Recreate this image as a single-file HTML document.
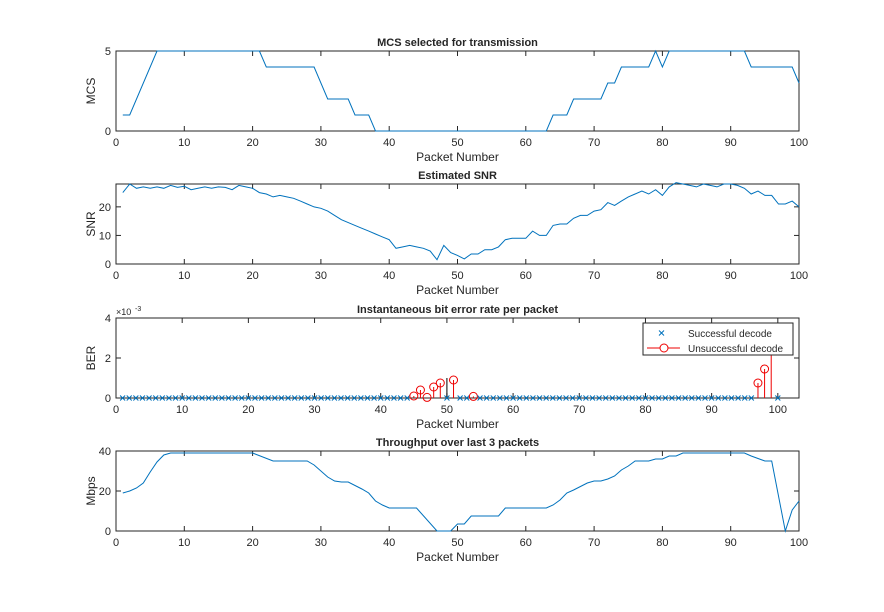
<!DOCTYPE html>
<html><head><meta charset="utf-8"><style>
body{margin:0;background:#fff}
text{font-family:"Liberation Sans",Arial,sans-serif;fill:#262626}
</style></head><body>
<svg id="s" width="884" height="607" xmlns="http://www.w3.org/2000/svg"></svg>
<script>
const s=document.getElementById('s');let h='';
const L=116,R=799;
function axes(top,bot,xmax,yticks,ymax,title,ylab,xticks){
 const W=R-L,H=bot-top;
 h+=`<rect x="${L}" y="${top}" width="${W}" height="${H}" fill="#fff" stroke="#262626" stroke-width="1"/>`;
 xticks.forEach(t=>{const x=L+t/xmax*W;h+=`<line x1="${x}" y1="${bot}" x2="${x}" y2="${bot-5}" stroke="#262626"/><line x1="${x}" y1="${top}" x2="${x}" y2="${top+5}" stroke="#262626"/><text x="${x}" y="${bot+15}" font-size="11" text-anchor="middle">${t}</text>`});
 yticks.forEach(t=>{const y=bot-t/ymax*H;h+=`<line x1="${L}" y1="${y}" x2="${L+5}" y2="${y}" stroke="#262626"/><line x1="${R}" y1="${y}" x2="${R-5}" y2="${y}" stroke="#262626"/><text x="${L-5}" y="${y+4}" font-size="11" text-anchor="end">${t}</text>`});
 h+=`<text x="${(L+R)/2}" y="${top-5}" font-size="11" font-weight="bold" text-anchor="middle" fill="#000">${title}</text>`;
 h+=`<text x="${(L+R)/2}" y="${bot+30}" font-size="12" text-anchor="middle">Packet Number</text>`;
 h+=`<text transform="translate(${L-21},${(top+bot)/2}) rotate(-90)" font-size="12" text-anchor="middle">${ylab}</text>`;
}
function line(top,bot,xmax,ymax,pts){
 const W=R-L,H=bot-top;
 h+=`<polyline fill="none" stroke="#0072bd" stroke-width="1" points="${pts.map(p=>(L+p[0]/xmax*W).toFixed(1)+','+(bot-p[1]/ymax*H).toFixed(1)).join(' ')}"/>`;
}
const X10=[0,10,20,30,40,50,60,70,80,90,100];
axes(51,131,100,[0,5],5,'MCS selected for transmission','MCS',X10);
line(51,131,100,5,[[1,1],[2,1],[6,5],[21,5],[22,4],[29,4],[31,2],[34,2],[35,1],[37,1],[38,0],[63,0],[64,1],[66,1],[67,2],[71,2],[72,3],[73,3],[74,4],[78,4],[79,5],[80,4],[81,5],[92,5],[93,4],[99,4],[100,3]]);
axes(184,264,100,[0,10,20],28,'Estimated SNR','SNR',X10);
line(184,264,100,28,[[1,25],[2,28],[3,26.5],[4,27],[5,26.5],[6,27],[7,26.5],[8,27.5],[9,26.8],[10,27.2],[11,26],[12,26.5],[13,27],[14,26.5],[15,27],[16,26.8],[17,26],[18,27.5],[19,27],[20,26.5],[21,25],[22,24.5],[23,23.5],[24,24],[25,23.5],[26,23],[27,22],[28,21],[29,20],[30,19.5],[31,18.5],[32,17],[33,15.5],[34,14.5],[35,13.5],[36,12.5],[37,11.5],[38,10.5],[39,9.5],[40,8.5],[41,5.5],[42,6],[43,6.5],[44,6],[45,5.5],[46,4.5],[47,1.5],[48,6.5],[49,4],[50,3],[51,1.8],[52,3.5],[53,3.5],[54,5],[55,5],[56,6],[57,8.5],[58,9],[59,9],[60,9],[61,11.5],[62,10],[63,10],[64,13.5],[65,14],[66,14],[67,16],[68,17],[69,17],[70,18.5],[71,19],[72,21.5],[73,20.5],[74,22],[75,23.5],[76,24.5],[77,25.5],[78,24.5],[79,26],[80,24],[81,27],[82,28.5],[83,28],[84,27.5],[85,27],[86,28],[87,27.5],[88,27],[89,28],[90,28],[91,27.5],[92,26.5],[93,24.5],[94,25.5],[95,24],[96,24],[97,21],[98,21],[99,22],[100,20]]);
const bt=318,bb=398,bx=103.2,bH=80,bW=R-L;
axes(bt,bb,bx,[0,2,4],4,'Instantaneous bit error rate per packet','BER',X10);
h+=`<text x="${L}" y="${bt-3}" font-size="9">×10</text><text x="${L+19}" y="${bt-7}" font-size="7">-3</text>`;
const red={45:0.1,46:0.4,47:0.03,48:0.55,49:0.75,51:0.9,54:0.08,97:0.75,98:1.45,99:3};
const fx=v=>L+v/bx*bW,fy=v=>bb-Math.min(v,4)/4*bH;
h+=`<line x1="${fx(50)}" y1="${bb}" x2="${fx(50)}" y2="${fy(1)}" stroke="#000"/>`;
for(let i=1;i<=100;i++){
 if(red[i]!==undefined){const x=fx(i),y=fy(red[i]);h+=`<line x1="${x}" y1="${bb}" x2="${x}" y2="${y}" stroke="#e00"/>`;if(red[i]<2.5)h+=`<circle cx="${x}" cy="${y}" r="4" fill="none" stroke="#e00"/>`;}
 else{const x=fx(i),y=bb;h+=`<path d="M${x-2.5},${y-2.5}L${x+2.5},${y+2.5}M${x-2.5},${y+2.5}L${x+2.5},${y-2.5}" stroke="#0072bd"/>`;}
}
h+=`<rect x="643" y="323" width="150" height="32" fill="#fff" stroke="#262626"/>`;
h+=`<path d="M659,330.5L664,335.5M659,335.5L664,330.5" stroke="#0072bd"/><text x="688" y="337" font-size="10">Successful decode</text>`;
h+=`<line x1="647" y1="348" x2="680" y2="348" stroke="#e00"/><circle cx="664" cy="348" r="4" fill="#fff" stroke="#e00"/><text x="688" y="352" font-size="10">Unsuccessful decode</text>`;
axes(451,531,100,[0,20,40],40,'Throughput over last 3 packets','Mbps',X10);
line(451,531,100,40,[[1,19],[2,20],[3,21.5],[4,24],[5,29.5],[6,34.5],[7,38],[8,39],[20,39],[23,35],[28,35],[29,33],[31,27],[32,25],[33,24.5],[34,24.5],[36,21],[37,19],[38,15],[39,13],[40,11.5],[44,11.5],[47,0],[49,0],[50,3.5],[51,3.5],[52,7.5],[56,7.5],[57,11.5],[63,11.5],[64,13],[65,15.5],[66,19],[67,20.5],[69,24],[70,25],[71,25],[72,26],[73,27.5],[74,30.5],[75,32.5],[76,35],[78,35],[79,36],[80,36],[81,37.5],[82,37.5],[83,39],[92,39],[93,37.5],[95,35],[96,35],[98,0],[99,10.5],[100,15]]);
s.innerHTML=h;
</script>
</body></html>
